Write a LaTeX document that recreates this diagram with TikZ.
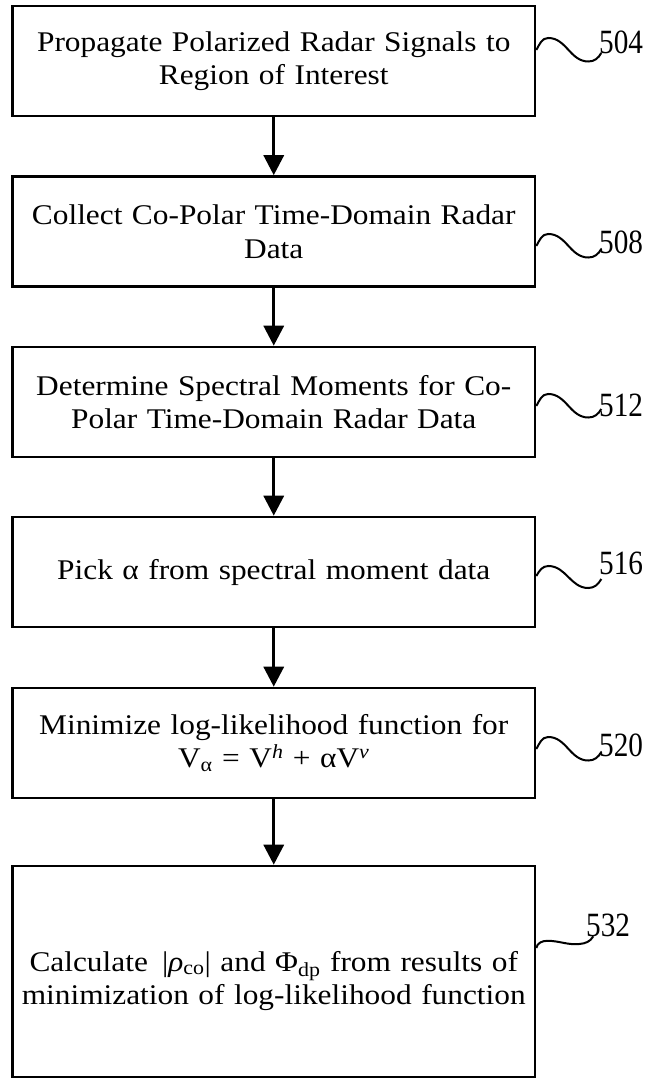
\documentclass[tikz,border=0pt]{standalone}
\usepackage{fontspec}
\setmainfont{Liberation Serif}[FakeStretch=1.1]
\newfontfamily\labelfont{Liberation Serif}[FakeStretch=0.86]
\usetikzlibrary{arrows.meta}
\begin{document}
\begin{tikzpicture}[x=1pt,y=1pt,
  boxtext/.style={align=center, text width=505pt, inner sep=0pt, font=\fontsize{28.5}{33.5}\selectfont},
  stepbox/.style={draw, line width=2.6pt, minimum width=522.5pt, minimum height=110pt, boxtext},
  flow/.style={line width=3.2pt, -{Triangle[width=20pt,length=20pt]}},
  squig/.style={line width=2pt},
  reflabel/.style={anchor=base west, inner sep=0pt, font=\labelfont\fontsize{34}{38}\selectfont}]
\useasboundingbox (0,0) rectangle (650,-1084);
\node[stepbox] (b1) at (273.75,-61) {Propagate Polarized Radar Signals to\\Region of Interest};
\node[stepbox] (b2) at (273.75,-231.5) {Collect Co-Polar Time-Domain Radar\\Data};
\node[stepbox] (b3) at (273.75,-402) {Determine Spectral Moments for Co-\\Polar Time-Domain Radar Data};
\node[stepbox] (b4) at (273.75,-572) {Pick α from spectral moment data};
\node[stepbox] (b5) at (273.75,-743) {Minimize log-likelihood function for\\V\textsubscript{α} = V\textsuperscript{\textit{h}} + αV\textsuperscript{\textit{v}}};
\node[draw, line width=2.6pt, minimum width=522.5pt, minimum height=211pt, inner sep=0pt] (b6) at (273.75,-971.5) {};
\node[boxtext] (t6) at (273.75,-981) {Calculate \,|\textit{ρ}\textsubscript{co}| and Φ\textsubscript{dp} from results of\\minimization of log-likelihood function};
\draw[flow] (b1.south) -- (b2.north);
\draw[flow] (b2.south) -- (b3.north);
\draw[flow] (b3.south) -- (b4.north);
\draw[flow] (b4.south) -- (b5.north);
\draw[flow] (b5.south) -- (b6.north);
\draw[squig] ([yshift=11pt]b1.east) to[out=60,in=180] ++(12,12) to[out=0,in=180] ++(40,-23.5) to[out=0,in=240] ++(13,8.5) coordinate (e1);
\node[reflabel] (l1) at (599,-53) {504};
\draw[squig] ([yshift=-14.5pt]b2.east) to[out=60,in=180] ++(12,12) to[out=0,in=180] ++(40,-23.5) to[out=0,in=240] ++(13,8.5) coordinate (e2);
\node[reflabel] (l2) at (599,-253) {508};
\draw[squig] ([yshift=-4pt]b3.east) to[out=60,in=180] ++(12,12) to[out=0,in=180] ++(40,-23.5) to[out=0,in=240] ++(13,8.5) coordinate (e3);
\node[reflabel] (l3) at (599,-416) {512};
\draw[squig] ([yshift=-4pt]b4.east) to[out=60,in=180] ++(12,10) to[out=0,in=180] ++(40,-22) to[out=0,in=240] ++(13,9) coordinate (e4);
\node[reflabel] (l4) at (599,-574) {516};
\draw[squig] ([yshift=-6pt]b5.east) to[out=60,in=180] ++(12,12) to[out=0,in=180] ++(40,-23.5) to[out=0,in=240] ++(13,8.5) coordinate (e5);
\node[reflabel] (l5) at (599,-756) {520};
\draw[squig] (b6.north east |- 0,-948) to[out=80,in=180] ++(11,7.2) to[out=0,in=185] ++(32,-3.2) to[out=5,in=240] ++(14,7.7) coordinate (e6);
\node[reflabel] (l6) at (586,-936) {532};
\end{tikzpicture}
\end{document}
